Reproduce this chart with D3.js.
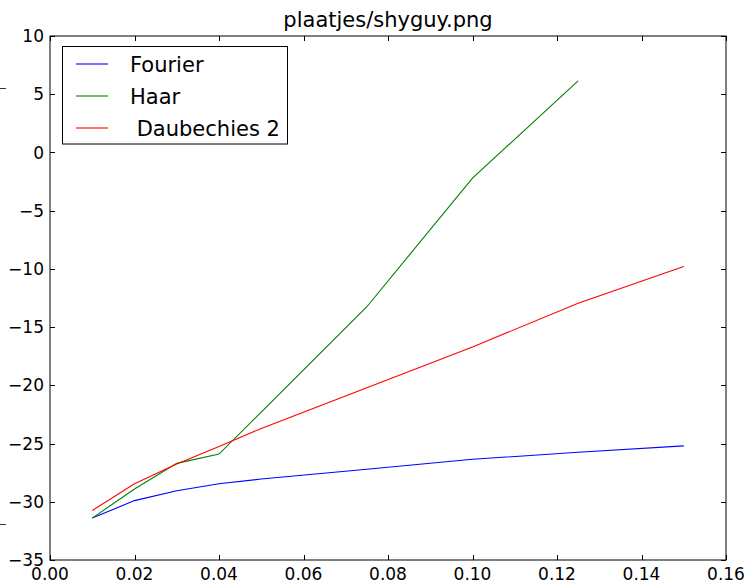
<!DOCTYPE html>
<html>
<head>
<meta charset="utf-8">
<script src="https://cdn.jsdelivr.net/npm/d3@7"></script>
<style>
  html, body { margin: 0; padding: 0; background: #fff; }
  svg { display: block; font-family: 'DejaVu Sans', sans-serif; }
</style>
</head>
<body>
<div id="chart"></div>
<script>
// data
const xs = [0.01, 0.02, 0.03, 0.04, 0.05, 0.075, 0.1, 0.125, 0.15];
const fourier = [-31.4, -29.9, -29.05, -28.45, -28.05, -27.2, -26.35, -25.75, -25.2];
const haar = [-31.4, -28.9, -26.7, -25.9, -22.3, -13.25, -2.2, 6.15];
const daub2 = [-30.75, -28.45, -26.75, -25.25, -23.7, -20.2, -16.7, -12.95, -9.8];

const seriesNames = ['Fourier', 'Haar', ' Daubechies 2'];
const seriesColors = ['#0000ff', '#008000', '#ff0000'];
const xTicks = [0, 0.02, 0.04, 0.06, 0.08, 0.10, 0.12, 0.14, 0.16];
const yTicks = [-35, -30, -25, -20, -15, -10, -5, 0, 5, 10];

const width = 748, height = 583;
const plotL = 50, plotR = 726, plotT = 36, plotB = 560;

const svg = d3.select('#chart').append('svg')
  .attr('width', width).attr('height', height);

const x = d3.scaleLinear().domain([0, 0.16]).range([plotL, plotR]);
const y = d3.scaleLinear().domain([-35, 10]).range([plotB, plotT]);

// lines
const series = [fourier, haar, daub2];
const line = d3.line().x(d => x(d[0])).y(d => y(d[1]));
series.forEach((vals, i) => {
  const pts = vals.map((v, j) => [xs[j], v]);
  svg.append('path')
    .attr('d', line(pts))
    .attr('fill', 'none')
    .attr('stroke', seriesColors[i])
    .attr('stroke-width', 1.1);
});

// frame + inward ticks on all four sides
const axisColor = '#000';
svg.append('rect')
  .attr('x', plotL).attr('y', plotT)
  .attr('width', plotR - plotL).attr('height', plotB - plotT)
  .attr('fill', 'none').attr('stroke', axisColor).attr('stroke-width', 1);

const tl = 5;
xTicks.forEach(t => {
  const px = Math.round(x(t)) + 0.5;
  svg.append('line').attr('x1', px).attr('x2', px).attr('y1', plotB).attr('y2', plotB - tl).attr('stroke', axisColor);
  svg.append('line').attr('x1', px).attr('x2', px).attr('y1', plotT).attr('y2', plotT + tl).attr('stroke', axisColor);
  svg.append('text')
    .attr('x', x(t)).attr('y', 580)
    .attr('text-anchor', 'middle')
    .attr('font-size', 17).attr('fill', '#000')
    .text(t.toFixed(2));
});
yTicks.forEach(t => {
  const py = Math.round(y(t)) + 0.5;
  svg.append('line').attr('x1', plotL).attr('x2', plotL + tl).attr('y1', py).attr('y2', py).attr('stroke', axisColor);
  svg.append('line').attr('x1', plotR).attr('x2', plotR - tl).attr('y1', py).attr('y2', py).attr('stroke', axisColor);
  svg.append('text')
    .attr('x', 44).attr('y', y(t)).attr('dy', '0.36em')
    .attr('text-anchor', 'end')
    .attr('font-size', 17).attr('fill', '#000')
    .text(t < 0 ? '\u2212' + Math.abs(t) : String(t));
});

// title
svg.append('text')
  .attr('x', (plotL + plotR) / 2).attr('y', 27)
  .attr('text-anchor', 'middle')
  .attr('font-size', 21).attr('fill', '#000')
  .text('plaatjes/shyguy.png');

// legend
const lg = svg.append('g');
lg.append('rect')
  .attr('x', 62.5).attr('y', 46.5).attr('width', 225).attr('height', 97.5)
  .attr('fill', '#fff').attr('stroke', '#000').attr('stroke-width', 1);
seriesNames.forEach((name, i) => {
  const ly = 64 + i * 32;
  lg.append('line')
    .attr('x1', 76).attr('x2', 108).attr('y1', ly).attr('y2', ly)
    .attr('stroke', seriesColors[i]).attr('stroke-width', 1.1);
  lg.append('text')
    .attr('x', 130).attr('y', ly).attr('dy', '0.36em')
    .attr('font-size', 21).attr('fill', '#000')
    .style('white-space', 'pre')
    .text(name);
});

// stray fragments at the left edge of the crop
[[88, 6], [524, 6]].forEach(([py, w]) => {
  svg.append('line').attr('x1', 0).attr('x2', w).attr('y1', py + 0.5).attr('y2', py + 0.5)
    .attr('stroke', '#333').attr('stroke-width', 1);
});
</script>
</body>
</html>
